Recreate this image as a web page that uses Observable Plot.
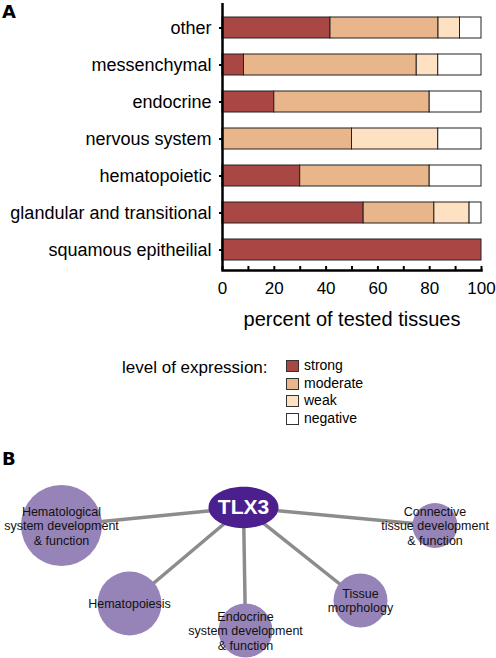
<!DOCTYPE html>
<html>
<head>
<meta charset="utf-8">
<script src="https://cdn.jsdelivr.net/npm/d3@7"></script>
<script src="https://cdn.jsdelivr.net/npm/@observablehq/plot@0.6"></script>
<style>
  body { margin: 0; background: #fff; }
  #root { position: relative; width: 496px; height: 658px; overflow: hidden; font-family: "Liberation Sans", Arial, sans-serif; color: #000; }
  #root > svg, #root > div { position: absolute; }
  .panel { font-family: "DejaVu Sans", sans-serif; font-weight: bold; font-size: 18px; line-height: 1; left: 2px; }
  .legtitle { font-size: 17px; line-height: 1; left: 122px; top: 358.6px; white-space: nowrap; }
  .legrow { left: 286px; height: 14px; white-space: nowrap; font-size: 14px; line-height: 14px; }
  .sw { position: absolute; left: 0; top: 2px; width: 11px; height: 10px; border: 1px solid #333; }
  .lab { position: absolute; left: 18px; top: 0; }
</style>
</head>
<body>
<div id="root"></div>
<script>
// ---------- data: panel A ----------
const categories = ["other", "messenchymal", "endocrine", "nervous system", "hematopoietic", "glandular and transitional", "squamous epitheilial"];
const levels = ["strong", "moderate", "weak", "negative"];
const levelColors = ["#a94745", "#e9b68b", "#fde1c2", "#ffffff"];
const strong   = [41.7,  8.3, 20,  0,   30, 54.5, 100];
const moderate = [41.7, 66.7, 60, 50,   50, 27.3,   0];
const weak     = [ 8.3,  8.3,  0, 33.3,  0, 13.6,   0];
const negative = [ 8.3, 16.7, 20, 16.7, 20,  4.6,   0];
const xTickLabels = [0, 20, 40, 60, 80, 100];
const xTickMarks = [0, 10, 20, 30, 40, 50, 60, 70, 80, 90, 100];
const xLabel = "percent of tested tissues";
const legendTitle = "level of expression:";

// ---------- data: panel B ----------
const hubName = "TLX3";
const hubX = 243, hubY = 67;
const nodeLabels = ["Hematological\nsystem development\n& function", "Hematopoiesis", "Endocrine\nsystem development\n& function", "Tissue\nmorphology", "Connective\ntissue development\n& function"];
const nodeX = [61, 129, 245, 360, 434.5];
const nodeY = [85, 163, 190, 160, 85];
const nodeR = [40.5, 32, 27, 27, 22.5];

const root = document.getElementById("root");
const font = '"Liberation Sans", Arial, sans-serif';

// ---------- panel A chart ----------
const series = [strong, moderate, weak, negative];
const barData = categories.flatMap((c, i) => levels.map((l, j) => ({category: c, level: l, value: series[j][i]}))).filter(d => d.value > 0);

const chart = Plot.plot({
  width: 496, height: 335,
  marginLeft: 222, marginRight: 15, marginTop: 3, marginBottom: 65,
  style: {fontFamily: font, color: "#000", background: "transparent", overflow: "visible"},
  x: {domain: [0, 100]},
  y: {domain: categories, paddingInner: 0.42, paddingOuter: 0.24, align: 0.6},
  color: {domain: levels, range: levelColors},
  marks: [
    Plot.barX(barData, Plot.stackX({x: "value", y: "category", fill: "level", stroke: "#222", strokeWidth: 1})),
    Plot.ruleX([0], {strokeWidth: 2.5}),
    Plot.frame({anchor: "bottom", strokeWidth: 2.5}),
    Plot.axisY({tickSize: 3, strokeWidth: 2, tickPadding: 8, fontSize: 18, label: null}),
    Plot.axisX({ticks: xTickMarks, tickSize: -4, strokeWidth: 2, text: null, label: null}),
    Plot.axisX({ticks: xTickLabels, tickSize: 0, tickPadding: 11, fontSize: 17, label: null}),
    Plot.axisX({ticks: [], label: xLabel, labelAnchor: "center", labelArrow: "none", fontSize: 20, labelOffset: 55})
  ]
});
chart.style.left = "0px"; chart.style.top = "0px";
root.appendChild(chart);

// ---------- legend ----------
const title = document.createElement("div");
title.className = "legtitle"; title.textContent = legendTitle;
root.appendChild(title);
levels.forEach((l, i) => {
  const row = document.createElement("div");
  row.className = "legrow";
  row.style.top = (358 + i * 17.5) + "px";
  row.innerHTML = `<span class="sw" style="background:${levelColors[i]}"></span><span class="lab">${l}</span>`;
  root.appendChild(row);
});

// ---------- panel labels ----------
[["A", 3], ["B", 450]].forEach(([t, top]) => {
  const d = document.createElement("div");
  d.className = "panel"; d.textContent = t; d.style.top = top + "px";
  root.appendChild(d);
});

// ---------- panel B network ----------
const nodes = nodeLabels.map((label, i) => ({label, x: nodeX[i], y: nodeY[i], r: nodeR[i]}));
const ellipse = {
  draw(ctx, size) {
    const r = Math.sqrt(size / Math.PI), rx = r, ry = r * 0.59, k = 0.5523;
    ctx.moveTo(rx, 0);
    ctx.bezierCurveTo(rx, ry * k, rx * k, ry, 0, ry);
    ctx.bezierCurveTo(-rx * k, ry, -rx, ry * k, -rx, 0);
    ctx.bezierCurveTo(-rx, -ry * k, -rx * k, -ry, 0, -ry);
    ctx.bezierCurveTo(rx * k, -ry, rx, -ry * k, rx, 0);
    ctx.closePath();
  }
};
const net = Plot.plot({
  width: 496, height: 218, margin: 0,
  style: {fontFamily: font, background: "transparent", overflow: "visible"},
  x: {domain: [0, 496], range: [0, 496], axis: null},
  y: {domain: [0, 218], range: [0, 218], axis: null},
  r: {type: "identity"},
  marks: [
    Plot.link(nodes, {x1: () => hubX, y1: () => hubY, x2: "x", y2: "y", stroke: "#8c8c8c", strokeWidth: 3.5}),
    Plot.dot(nodes, {x: "x", y: "y", r: "r", fill: "#9683b7", stroke: null}),
    Plot.dot([hubName], {x: () => hubX, y: () => hubY, r: 35, symbol: ellipse, fill: "#4b1f8e", stroke: null}),
    Plot.text(nodes, {x: "x", y: "y", text: "label", fontSize: 12.5, lineHeight: 1.16, fill: "#111"}),
    Plot.text([hubName], {x: () => hubX, y: () => hubY, text: d => d, fontSize: 21, fontWeight: "bold", fill: "#fff"})
  ]
});
net.style.left = "0px"; net.style.top = "440px";
root.appendChild(net);
</script>
</body>
</html>
